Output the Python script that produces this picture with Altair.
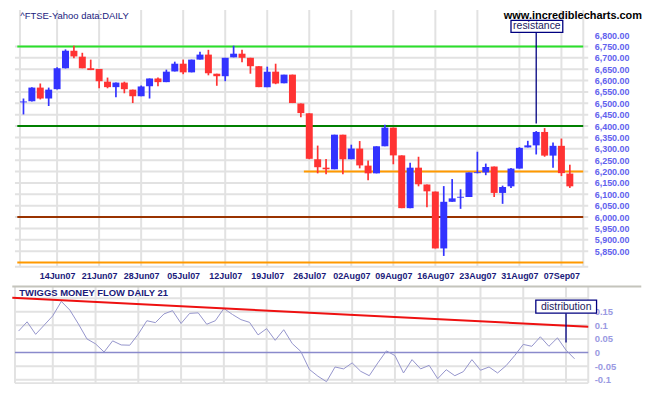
import altair as alt
import pandas as pd

# ---------------- data ----------------
dates = ["08Jun07",
         "11Jun07", "12Jun07", "13Jun07", "14Jun07", "15Jun07",
         "18Jun07", "19Jun07", "20Jun07", "21Jun07", "22Jun07",
         "25Jun07", "26Jun07", "27Jun07", "28Jun07", "29Jun07",
         "02Jul07", "03Jul07", "04Jul07", "05Jul07", "06Jul07",
         "09Jul07", "10Jul07", "11Jul07", "12Jul07", "13Jul07",
         "16Jul07", "17Jul07", "18Jul07", "19Jul07", "20Jul07",
         "23Jul07", "24Jul07", "25Jul07", "26Jul07", "27Jul07",
         "30Jul07", "31Jul07", "01Aug07", "02Aug07", "03Aug07",
         "06Aug07", "07Aug07", "08Aug07", "09Aug07", "10Aug07",
         "13Aug07", "14Aug07", "15Aug07", "16Aug07", "17Aug07",
         "20Aug07", "21Aug07", "22Aug07", "23Aug07", "24Aug07",
         "28Aug07", "29Aug07", "30Aug07", "31Aug07",
         "03Sep07", "04Sep07", "05Sep07", "06Sep07", "07Sep07",
         "10Sep07"]

open_ = [6504, 6509, 6569, 6521, 6562, 6654, 6731, 6705, 6654, 6651,
         6595, 6571, 6591, 6560, 6531, 6575, 6609, 6593, 6640, 6674,
         6636, 6692, 6714, 6630, 6619, 6702, 6718, 6700, 6663, 6571,
         6639, 6588, 6626, 6499, 6456, 6254, 6217, 6210, 6362, 6254,
         6301, 6226, 6192, 6311, 6393, 6271, 6039, 6217, 6143, 6112,
         5862, 6067, 6085, 6088, 6193, 6196, 6222, 6106, 6135, 6213,
         6306, 6315, 6374, 6270, 6313, 6191]
high = [6521, 6570, 6587, 6569, 6658, 6737, 6753, 6722, 6692, 6651,
        6613, 6591, 6595, 6560, 6578, 6609, 6613, 6648, 6683, 6692,
        6692, 6727, 6735, 6630, 6700, 6753, 6735, 6700, 6663, 6661,
        6674, 6626, 6626, 6499, 6456, 6314, 6255, 6362, 6362, 6318,
        6334, 6248, 6311, 6406, 6393, 6271, 6239, 6265, 6143, 6112,
        6136, 6167, 6122, 6196, 6287, 6235, 6222, 6138, 6216, 6307,
        6335, 6378, 6391, 6328, 6345, 6230]
low = [6451, 6508, 6517, 6488, 6561, 6653, 6698, 6654, 6646, 6566,
       6566, 6527, 6544, 6501, 6531, 6521, 6575, 6593, 6640, 6628,
       6636, 6692, 6623, 6577, 6597, 6702, 6680, 6630, 6571, 6571,
       6584, 6588, 6501, 6439, 6254, 6192, 6188, 6210, 6188, 6254,
       6214, 6162, 6192, 6311, 6232, 6039, 6039, 6135, 6043, 5862,
       5829, 6067, 6036, 6088, 6192, 6184, 6088, 6058, 6128, 6213,
       6306, 6275, 6265, 6217, 6180, 6128]
close = [6508, 6569, 6521, 6560, 6654, 6731, 6706, 6654, 6646, 6597,
         6571, 6591, 6562, 6531, 6574, 6609, 6593, 6639, 6674, 6636,
         6692, 6714, 6632, 6619, 6700, 6718, 6700, 6663, 6571, 6639,
         6587, 6626, 6501, 6457, 6256, 6219, 6210, 6362, 6254, 6301,
         6227, 6192, 6311, 6393, 6271, 6039, 6217, 6144, 6113, 5862,
         6067, 6082, 6089, 6196, 6197, 6220, 6106, 6132, 6213, 6304,
         6315, 6374, 6270, 6313, 6193, 6135]

tmf = [0.079, 0.113, 0.067, 0.101, 0.135, 0.188, 0.156, 0.105, 0.050, 0.032,
       0.002, 0.043, 0.028, 0.027, 0.068, 0.117, 0.110, 0.142, 0.154, 0.107,
       0.144, 0.146, 0.104, 0.117, 0.162, 0.140, 0.121, 0.111, 0.065, 0.088,
       0.045, 0.084, 0.033, 0.004, -0.062, -0.087, -0.107, -0.053, -0.060, -0.038,
       -0.069, -0.085, -0.038, 0.006, -0.011, -0.075, -0.026, -0.060, -0.047, -0.096,
       -0.063, -0.085, -0.070, -0.026, -0.065, -0.053, -0.075, -0.048, -0.011, 0.030,
       0.023, 0.058, 0.023, 0.054, 0.009, -0.023]

tick_labels = ["14Jun07", "21Jun07", "28Jun07", "05Jul07", "12Jul07", "19Jul07",
               "26Jul07", "02Aug07", "09Aug07", "16Aug07", "23Aug07", "31Aug07",
               "07Sep07"]
tick_idx = [dates.index(t) for t in tick_labels]

price_ticks = list(range(5850, 6801, 50))
price_grid = list(range(5850, 6751, 50))

level_values = [6750, 6400, 6200, 6000, 5800]
level_colors = ["#2be02b", "#008000", "#ff9900", "#993300", "#ff9900"]
level_start = [-0.734, -0.734, 33.36, -0.734, -0.734]
level_end = [66.6, 66.6, 66.6, 66.6, 66.6]

tmf_ticks = [0.15, 0.1, 0.05, 0, -0.05, -0.1]
tmf_grid = [0.2, 0.15, 0.1, 0.05, -0.05, -0.1]
trend_x = [-0.734, 66.6]
trend_y = [0.2011, 0.095]

# ---------------- layout constants ----------------
W = 576
H_TOP = 258
H_BOT = 97
X_DOM = [-0.42, 66.6]
Y_TOP_DOM = [5781.8, 6910.6]
Y_BOT_DOM = [-0.1123, 0.2425]
FONT = "Liberation Sans"
GRID = "#e2e2e2"

df = pd.DataFrame({"i": range(len(dates)), "date": dates, "open": open_,
                   "high": high, "low": low, "close": close, "tmf": tmf})
df["dir"] = ["up" if c >= o else "down" for o, c in zip(open_, close)]

xs = alt.Scale(domain=X_DOM, nice=False, zero=False)
ys_top = alt.Scale(domain=Y_TOP_DOM, nice=False, zero=False)
ys_bot = alt.Scale(domain=Y_BOT_DOM, nice=False, zero=False)

label_expr = "[" + ",".join("'%s'" % t for t in tick_labels) + "][indexof([" + \
    ",".join(str(v) for v in tick_idx) + "], datum.value)]"

x_axis_top = alt.Axis(values=tick_idx, labelExpr=label_expr, title=None, grid=False,
                      ticks=False, domain=False, labelPadding=5, labelFont=FONT,
                      labelFontSize=9, labelFontWeight="bold", labelColor="#1a1a7a",
                      labelFlush=False, labelOverlap=False)
y_axis_top = alt.Axis(orient="right", values=price_ticks, format=",.2f", title=None,
                      grid=False, ticks=False, domain=False, labelPadding=6,
                      labelFont=FONT, labelFontSize=9, labelFontWeight="bold",
                      labelColor="#6262ee", labelOverlap=False, labelFlush=False)

def XT(field="i"):
    return alt.X(field + ":Q", scale=xs, axis=x_axis_top)

def YT(field):
    return alt.Y(field + ":Q", scale=ys_top, axis=y_axis_top)

# vertical grid (week ticks + left/right borders)
vgrid_df = pd.DataFrame({"x": [X_DOM[0]] + tick_idx + [X_DOM[1]]})
vgrid_top = alt.Chart(vgrid_df).mark_rule(color=GRID, strokeWidth=2).encode(x=XT("x"))

hgrid_df = pd.DataFrame({"v": price_grid + [Y_TOP_DOM[0]]})
hgrid_top = alt.Chart(hgrid_df).mark_rule(color=GRID, strokeWidth=2).encode(y=YT("v"))

levels_df = pd.DataFrame({"v": level_values, "c": level_colors,
                          "x0": level_start, "x1": level_end})
levels = alt.Chart(levels_df).mark_rule(strokeWidth=2).encode(
    x=XT("x0"), x2="x1:Q", y=YT("v"), color=alt.Color("c:N", scale=None))

color_dir = alt.Color("dir:N", scale=alt.Scale(domain=["up", "down"],
                                               range=["#3333ff", "#ff3333"]), legend=None)
wicks = alt.Chart(df).mark_rule(strokeWidth=1.7).encode(
    x=XT(), y=YT("low"), y2="high:Q", color=color_dir)
bodies = alt.Chart(df).mark_bar(size=7).encode(
    x=XT(), y=YT("open"), y2="close:Q", color=color_dir)

# annotations (top)
title_top = alt.Chart(pd.DataFrame({"t": ["^FTSE-Yahoo data:DAILY"]})).mark_text(
    align="left", baseline="top", font=FONT, fontSize=9.5, color="#1a1a80").encode(
    x=alt.value(5.3), y=alt.value(1), text="t:N")
site = alt.Chart(pd.DataFrame({"t": ["www.incrediblecharts.com"]})).mark_text(
    align="right", baseline="top", font=FONT, fontSize=11, fontWeight="bold",
    color="#000000").encode(x=alt.value(630), y=alt.value(0), text="t:N")

res_box = alt.Chart(pd.DataFrame({"x0": [58.0], "x1": [64.16], "y0": [6812.1], "y1": [6864.6]})).mark_rect(
    fill="white", stroke="#000080", strokeWidth=1.3).encode(
    x=XT("x0"), x2="x1:Q", y=YT("y0"), y2="y1:Q")
res_line = alt.Chart(pd.DataFrame({"x": [61], "y0": [6411], "y1": [6812.1]})).mark_rule(
    color="#000080", strokeWidth=1.3).encode(x=XT("x"), y=YT("y0"), y2="y1:Q")
res_text = alt.Chart(pd.DataFrame({"x": [61.08], "y": [6838.4], "t": ["resistance"]})).mark_text(
    font=FONT, fontSize=10.5, color="#1a1a60", baseline="middle").encode(
    x=XT("x"), y=YT("y"), text="t:N")

top = alt.layer(vgrid_top, hgrid_top, levels, wicks, bodies, res_line, res_box, res_text,
                title_top, site).properties(width=W, height=H_TOP)

# ---------------- lower panel ----------------
y_axis_bot = alt.Axis(orient="right", values=tmf_ticks, title=None, grid=False, ticks=False,
                      domain=False, labelPadding=6, labelFont=FONT, labelFontSize=9.5,
                      labelFontWeight="bold", labelColor="#9a9ae2", labelOverlap=False,
                      labelFlush=False,
                      labelExpr="datum.value == 0 ? '0' : (datum.value < 0 ? '-' : '') + format(abs(datum.value), '.2~f')")

def XB(field="i"):
    return alt.X(field + ":Q", scale=xs, axis=None)

def YB(field):
    return alt.Y(field + ":Q", scale=ys_bot, axis=y_axis_bot)

vgrid_bot = alt.Chart(vgrid_df).mark_rule(color=GRID, strokeWidth=2).encode(x=XB("x"))
hgrid_bot = alt.Chart(pd.DataFrame({"v": tmf_grid + [Y_BOT_DOM[0]]})).mark_rule(
    color=GRID, strokeWidth=2).encode(y=YB("v"))
sep = alt.Chart(pd.DataFrame({"x0": [-0.734], "x1": [72.8], "v": [Y_BOT_DOM[1]]})).mark_rule(
    color="#c4c4bc", strokeWidth=2).encode(x=XB("x0"), x2="x1:Q", y=YB("v"))
zero = alt.Chart(pd.DataFrame({"v": [0]})).mark_rule(color="#8a8acc", strokeWidth=1.5).encode(
    y=YB("v"))
trend = alt.Chart(pd.DataFrame({"x": trend_x, "y": trend_y})).mark_line(
    color="#ee1111", strokeWidth=2).encode(x=XB("x"), y=YB("y"))
tmf_line = alt.Chart(df).mark_line(color="#9494cc", strokeWidth=1).encode(
    x=XB(), y=YB("tmf"))
title_bot = alt.Chart(pd.DataFrame({"t": ["TWIGGS MONEY FLOW DAILY 21"]})).mark_text(
    align="left", baseline="middle", font=FONT, fontSize=9.5, fontWeight="bold",
    color="#1a1a7a").encode(x=alt.value(4.3), y=alt.value(6.7), text="t:N")

dist_box = alt.Chart(pd.DataFrame({"x0": [60.47], "x1": [67.57], "y0": [0.1449], "y1": [0.1924]})).mark_rect(
    fill="white", stroke="#000080", strokeWidth=1.3).encode(
    x=XB("x0"), x2="x1:Q", y=YB("y0"), y2="y1:Q")
dist_line = alt.Chart(pd.DataFrame({"x": [64], "y0": [0.0366], "y1": [0.1449]})).mark_rule(
    color="#000080", strokeWidth=1.3).encode(x=XB("x"), y=YB("y0"), y2="y1:Q")
dist_text = alt.Chart(pd.DataFrame({"x": [64.02], "y": [0.169], "t": ["distribution"]})).mark_text(
    font=FONT, fontSize=10.5, color="#1a1a60", baseline="middle").encode(
    x=XB("x"), y=YB("y"), text="t:N")

bottom = alt.layer(vgrid_bot, hgrid_bot, zero, tmf_line, trend, sep, dist_line, dist_box,
                   dist_text, title_bot).properties(width=W, height=H_BOT)

chart = alt.vconcat(top, bottom, spacing=5).properties(padding=0).configure_view(stroke=None)

chart.save("out.html", embed_options={"renderer": "svg", "actions": False})
